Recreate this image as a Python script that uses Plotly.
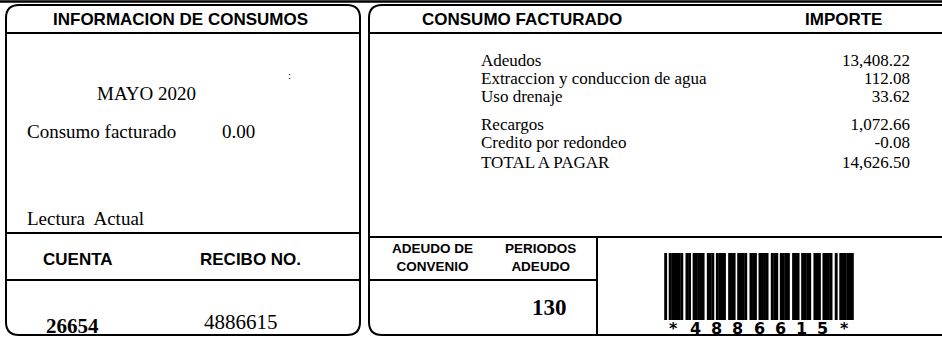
import plotly.graph_objects as go

# ---------------- data ----------------
periodo = "MAYO 2020"
consumo_facturado = 0.00
conceptos = ["Adeudos", "Extraccion y conduccion de agua", "Uso drenaje",
             "Recargos", "Credito por redondeo", "TOTAL A PAGAR"]
importes = [13408.22, 112.08, 33.62, 1072.66, -0.08, 14626.50]
cuenta = "26654"
recibo = "4886615"
periodos_adeudo = 130

# ---------------- layout helpers ----------------
W, H = 942, 340
SERIF = "Liberation Serif, Times New Roman, serif"
SANS = "Liberation Sans, Arial, sans-serif"

shapes = []
annotations = []


def line(x0, y0, x1, y1, w=2):
    shapes.append(dict(type="line", xref="x", yref="y", x0=x0, y0=y0, x1=x1, y1=y1,
                       line=dict(color="black", width=w)))


def rbox(x0, y0, x1, y1, r, w=2):
    p = (f"M {x0+r},{y0} L {x1-r},{y0} Q {x1},{y0} {x1},{y0+r} "
         f"L {x1},{y1-r} Q {x1},{y1} {x1-r},{y1} L {x0+r},{y1} "
         f"Q {x0},{y1} {x0},{y1-r} L {x0},{y0+r} Q {x0},{y0} {x0+r},{y0} Z")
    shapes.append(dict(type="path", xref="x", yref="y", path=p,
                       line=dict(color="black", width=w), fillcolor="rgba(0,0,0,0)"))


def text(x, y, s, size, family=SERIF, anchor="left", bold=False, color="black"):
    if bold:
        s = f"<b>{s}</b>"
    annotations.append(dict(x=x, y=y, xref="x", yref="y", text=s, showarrow=False,
                            xanchor=anchor, yanchor="middle",
                            font=dict(family=family, size=size, color=color)))


# top rule
line(0, 1.5, W, 1.5, 2.5)

# left box
rbox(6, 5, 360, 335, 13)
line(6, 33, 360, 33)
line(6, 233, 360, 233)
line(6, 280, 360, 280)

# right box (runs off the right edge)
rbox(369, 5, W + 20, 335, 13)
line(369, 33, W, 33)
line(369, 237, W, 237)
line(369, 280, 597, 280)
line(597, 237, 597, 335)

# headers
text(180, 19, "INFORMACION DE CONSUMOS", 17, SANS, "center", True)
text(522, 19, "CONSUMO FACTURADO", 17, SANS, "center", True)
text(843, 19, "IMPORTE", 17, SANS, "center", True)

# left content
text(95, 93, periodo, 19)
text(286, 75, ":", 11)
text(25, 131, "Consumo facturado", 19)
text(257, 131, f"{consumo_facturado:.2f}", 19, anchor="right")
text(25, 218, "Lectura  Actual", 19)
text(78, 259, "CUENTA", 17, SANS, "center", True)
text(250, 259, "RECIBO NO.", 17, SANS, "center", True)
text(72, 326, cuenta, 21, SERIF, "center", True)
text(241, 322, recibo, 21, SERIF, "center")

# right content: concept / amount rows
row_y = [62, 80, 98, 126, 144, 164]
fig = go.Figure()
fig.add_trace(go.Scatter(x=[481] * len(conceptos), y=row_y, mode="text",
                         text=conceptos, textposition="middle right",
                         textfont=dict(family=SERIF, size=17, color="black"),
                         hoverinfo="skip", showlegend=False))
fig.add_trace(go.Scatter(x=[910] * len(importes), y=row_y, mode="text",
                         text=[f"{v:,.2f}" for v in importes], textposition="middle left",
                         textfont=dict(family=SERIF, size=17, color="black"),
                         hoverinfo="skip", showlegend=False))

text(432, 257, "ADEUDO DE<br>CONVENIO", 13.5, SANS, "center", True)
text(540, 257, "PERIODOS<br>ADEUDO", 13.5, SANS, "center", True)
text(549, 307, str(periodos_adeudo), 23, SERIF, "center", True)

# barcode (Code 39 of the receipt number)
C39 = {"0": "nnnwwnwnn", "1": "wnnwnnnnw", "2": "nnwwnnnnw", "3": "wnwwnnnnn",
       "4": "nnnwwnnnw", "5": "wnnwwnnnn", "6": "nnwwwnnnn", "7": "nnnwnnwnw",
       "8": "wnnwnnwnn", "9": "nnwwnnwnn", "*": "nwnnwnwnn"}
code = "*" + recibo + "*"
bx0, bx1, by0, by1 = 665, 853, 253, 320
WIDE, GAP = 2.5, 3
units = len(code) * (6 + 3 * WIDE) + (len(code) - 1) * GAP
u = (bx1 - bx0) / units
bleed = 0.8
x = bx0
for ch in code:
    cx0 = x
    for i, e in enumerate(C39[ch]):
        wdt = (WIDE if e == "w" else 1) * u
        if i % 2 == 0:
            shapes.append(dict(type="rect", xref="x", yref="y",
                               x0=x - bleed, x1=x + wdt + bleed, y0=by0, y1=by1,
                               fillcolor="black", line=dict(width=0)))
        x += wdt
    text((cx0 + x) / 2, 328, f"<b>{ch}</b>", 16, "DejaVu Sans, sans-serif", "center")
    x += GAP * u

fig.update_layout(
    width=W, height=H, margin=dict(l=0, r=0, t=0, b=0),
    paper_bgcolor="white", plot_bgcolor="white",
    xaxis=dict(range=[0, W], visible=False, fixedrange=True),
    yaxis=dict(range=[H, 0], visible=False, fixedrange=True),
    shapes=shapes, annotations=annotations, showlegend=False,
)
fig.write_html("out.html", post_script="document.body.style.margin='0';",
               config={"displayModeBar": False})
